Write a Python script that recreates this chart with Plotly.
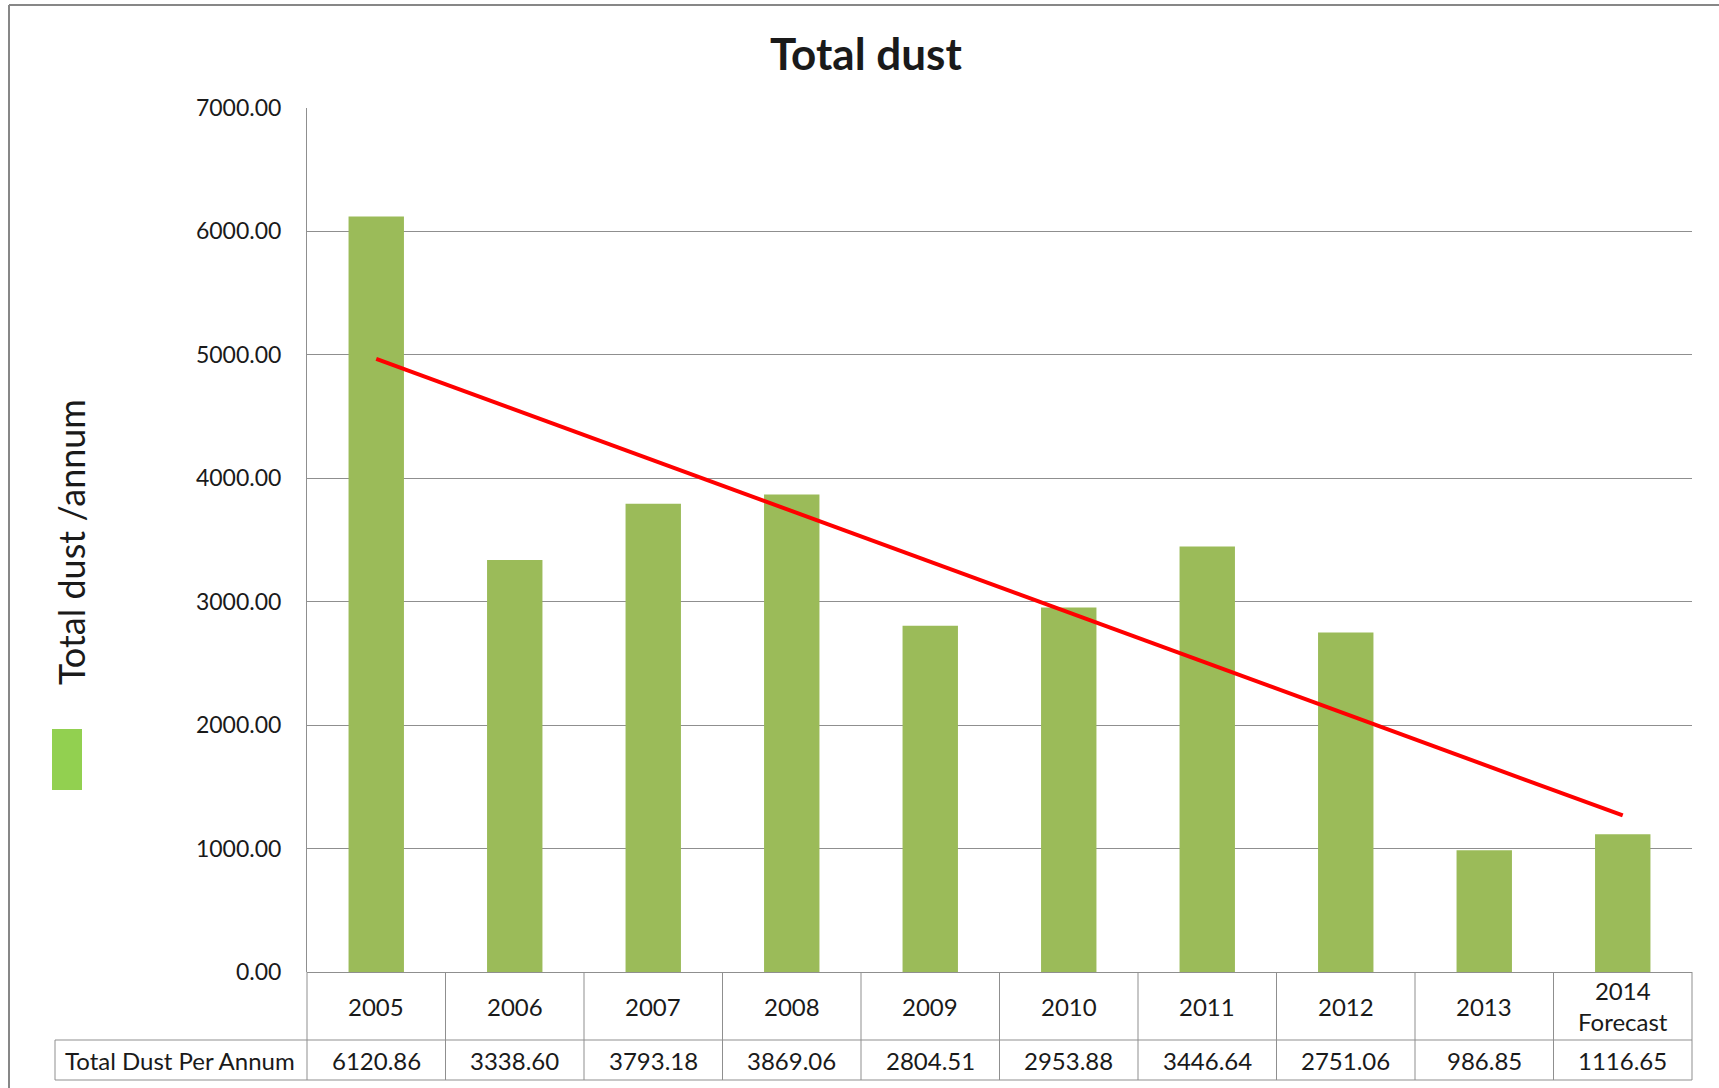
import numpy as np
import plotly.graph_objects as go

# ---- data ----
categories = ["2005", "2006", "2007", "2008", "2009", "2010", "2011", "2012", "2013", "2014<br>Forecast"]
dust_values = [6120.86, 3338.60, 3793.18, 3869.06, 2804.51, 2953.88, 3446.64, 2751.06, 986.85, 1116.65]
y_ticks = [0, 1000, 2000, 3000, 4000, 5000, 6000, 7000]
title_text = "Total dust"
y_title = "Total dust /annum"
row_header = "Total Dust Per Annum"

# ---- layout geometry (pixels) ----
W, H = 1719, 1088
L, R, T, B = 307, 1692, 108, 972
PW, PH = R - L, B - T

def px(x):
    return (x - L) / PW

def py(y):
    return (B - y) / PH

FONT = "Lato, 'Open Sans', sans-serif"
GRID = "#8f8f8f"
TXT = "#1a1a1a"

# linear trendline (least squares, as in the spreadsheet)
idx = np.arange(len(dust_values))
slope, intercept = np.polyfit(idx, dust_values, 1)
trend = [slope * i + intercept for i in idx]

fig = go.Figure()
fig.add_trace(go.Bar(
    x=categories, y=dust_values, width=0.4,
    marker=dict(color="#9BBB59", line=dict(width=0)),
    hoverinfo="skip", showlegend=False,
))
fig.add_trace(go.Scatter(
    x=categories, y=trend, mode="lines",
    line=dict(color="#FF0000", width=4),
    hoverinfo="skip", showlegend=False,
))

shapes = []
line_style = dict(color=GRID, width=1)
# outer chart border (left and top)
shapes.append(dict(type="line", xref="paper", yref="paper", x0=px(9), x1=px(9), y0=py(5), y1=py(H + 5),
                   line=dict(color="#878787", width=2)))
shapes.append(dict(type="line", xref="paper", yref="paper", x0=px(9), x1=px(W + 5), y0=py(5), y1=py(5),
                   line=dict(color="#878787", width=2)))
# data table lines
row1, row2 = 1040, 1080
n = len(categories)
for i in range(n + 1):
    xv = i / n
    shapes.append(dict(type="line", xref="paper", yref="paper", x0=xv, x1=xv, y0=py(B), y1=py(row2), line=line_style))
shapes.append(dict(type="line", xref="paper", yref="paper", x0=px(55), x1=1, y0=py(row1), y1=py(row1), line=line_style))
shapes.append(dict(type="line", xref="paper", yref="paper", x0=px(55), x1=1, y0=py(row2), y1=py(row2), line=line_style))
shapes.append(dict(type="line", xref="paper", yref="paper", x0=px(55), x1=px(55), y0=py(row1), y1=py(row2), line=line_style))
# legend key square
shapes.append(dict(type="rect", xref="paper", yref="paper", x0=px(52), x1=px(82), y0=py(729), y1=py(790),
                   fillcolor="#92D050", line=dict(width=0)))

annotations = []
for i, c in enumerate(categories):
    annotations.append(dict(x=i, xref="x", y=py(1006), yref="paper", text=c, showarrow=False,
                            xanchor="center", yanchor="middle", font=dict(family=FONT, size=24, color=TXT)))
for i, v in enumerate(dust_values):
    annotations.append(dict(x=i, xref="x", y=py(1060), yref="paper", text=f"{v:.2f}", showarrow=False,
                            xanchor="center", yanchor="middle", font=dict(family=FONT, size=24, color=TXT)))
annotations.append(dict(x=px(180), xref="paper", y=py(1060), yref="paper", text=row_header, showarrow=False,
                        xanchor="center", yanchor="middle", font=dict(family=FONT, size=24, color=TXT)))
annotations.append(dict(x=px(71), xref="paper", y=py(542), yref="paper", text=y_title, showarrow=False,
                        textangle=-90, xanchor="center", yanchor="middle",
                        font=dict(family=FONT, size=36, color=TXT)))
annotations.append(dict(x=px(866), xref="paper", y=py(53), yref="paper", text=f"<b>{title_text}</b>",
                        showarrow=False, xanchor="center", yanchor="middle",
                        font=dict(family=FONT, size=44, color=TXT)))

fig.update_layout(
    width=W, height=H,
    margin=dict(l=L, r=W - R, t=T, b=H - B, pad=0),
    paper_bgcolor="white", plot_bgcolor="white",
    shapes=shapes, annotations=annotations,
    xaxis=dict(type="category", showticklabels=False, showgrid=False, ticks="",
               showline=False, zeroline=False, range=[-0.5, n - 0.5]),
    yaxis=dict(range=[0, 7000], tickvals=y_ticks, tickformat=".2f",
               showgrid=True, gridcolor=GRID, gridwidth=1,
               zeroline=True, zerolinecolor=GRID, zerolinewidth=1,
               showline=True, linecolor=GRID, linewidth=1,
               ticks="", ticklabelstandoff=20,
               tickfont=dict(family=FONT, size=23, color=TXT)),
    showlegend=False,
)

fig.write_html("out.html", config={"displayModeBar": False},
               post_script="document.body.style.margin='0';document.body.style.overflow='hidden';")
